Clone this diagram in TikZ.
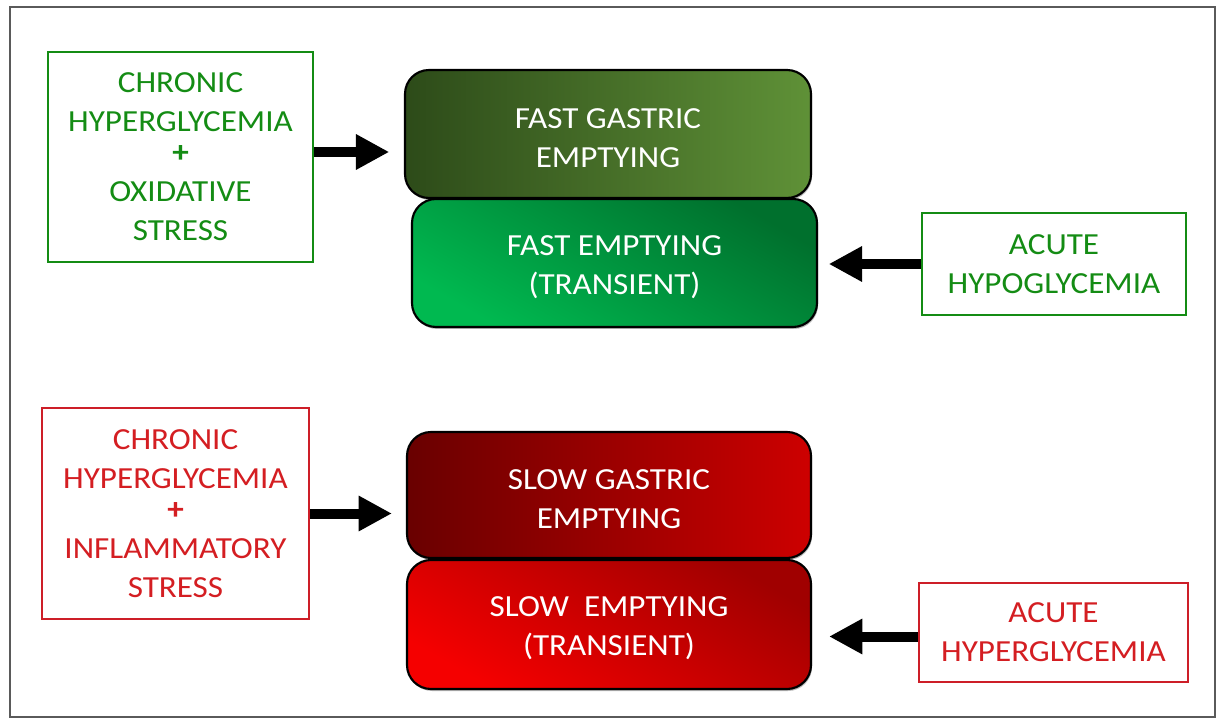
\documentclass[tikz,border=0pt]{standalone}
\usepackage{fontspec}
\setmainfont{Carlito}[FakeStretch=1.08]
\usetikzlibrary{arrows.meta,shadows}
\definecolor{gtxt}{RGB}{20,140,20}
\definecolor{gbord}{RGB}{20,140,20}
\definecolor{rtxt}{RGB}{212,30,34}
\definecolor{rbord}{RGB}{205,30,40}
\definecolor{fgL}{RGB}{45,75,25}
\definecolor{fgR}{RGB}{95,145,55}
\definecolor{feB}{RGB}{0,185,80}
\definecolor{feT}{RGB}{0,112,45}
\definecolor{sgL}{RGB}{105,0,0}
\definecolor{sgR}{RGB}{205,0,0}
\definecolor{seB}{RGB}{245,0,0}
\definecolor{seT}{RGB}{160,0,0}
\definecolor{frame}{RGB}{90,90,90}
\begin{document}
\begin{tikzpicture}[x=0.75pt,y=-0.75pt,
  txt/.style={font=\fontsize{23}{29.25}\selectfont, align=center, inner sep=0pt},
  gbox/.style={txt, draw=gbord, line width=1.8pt, text=gtxt},
  rbox/.style={txt, draw=rbord, line width=1.8pt, text=rtxt},
  lab/.style={txt, text=white, yshift=-3pt},
  shbox/.style={draw=black, line width=1.6pt, rounded corners=18pt,
    drop shadow={shadow xshift=0.8pt, shadow yshift=-1.5pt, opacity=0.55}},
  arr/.style={line width=7.5pt, -{Triangle[length=25pt,width=25pt]}}]
\useasboundingbox (0,0) rectangle (1222,720);
\draw[frame, line width=1.5pt] (10,7) rectangle (1215,717);

% green half
\node[gbox, minimum width=198.75pt, minimum height=157.5pt] (g1) at (180.5,157)
  {CHRONIC\\HYPERGLYCEMIA\\[-6pt]{\bfseries +}\\OXIDATIVE\\STRESS};
\node[shbox, minimum width=304.5pt, minimum height=96pt,
  left color=fgL, right color=fgR,
  label={[lab]center:{FAST GASTRIC\\EMPTYING}}] (fg) at (608,134) {};
\node[shbox, minimum width=303.75pt, minimum height=96pt,
  top color=feT, bottom color=feB, shading angle=-30,
  label={[lab]center:{FAST EMPTYING\\(TRANSIENT)}}] (fe) at (614.5,263) {};
\node[gbox, minimum width=198pt, minimum height=76.5pt] (ah) at (1054,264)
  {ACUTE\\HYPOGLYCEMIA};
\draw[arr] ([yshift=3.75pt]g1.east) -- ([xshift=-11pt,yshift=3.75pt]g1.east -| fg.west);
\draw[arr] (ah.west) -- ([xshift=8pt]ah.west -| fe.east);

% red half
\node[rbox, minimum width=200.25pt, minimum height=158.25pt] (r1) at (175.5,513.5)
  {CHRONIC\\HYPERGLYCEMIA\\[-6pt]{\bfseries +}\\INFLAMMATORY\\STRESS};
\node[shbox, minimum width=303pt, minimum height=94.5pt,
  left color=sgL, right color=sgR,
  label={[lab]center:{SLOW GASTRIC\\EMPTYING}}] (sg) at (609,495) {};
\node[shbox, minimum width=303pt, minimum height=96.75pt,
  top color=seT, bottom color=seB, shading angle=-30,
  label={[lab]center:{SLOW\ \ EMPTYING\\(TRANSIENT)}}] (se) at (609,624.5) {};
\node[rbox, minimum width=201.75pt, minimum height=74.25pt] (ag) at (1053.5,632.5)
  {ACUTE\\HYPERGLYCEMIA};
\draw[arr] (r1.east) -- ([xshift=-10.5pt]r1.east -| sg.west);
\draw[arr] ([yshift=-3pt]ag.west) -- ([xshift=12.75pt,yshift=-3pt]ag.west -| se.east);
\end{tikzpicture}
\end{document}
